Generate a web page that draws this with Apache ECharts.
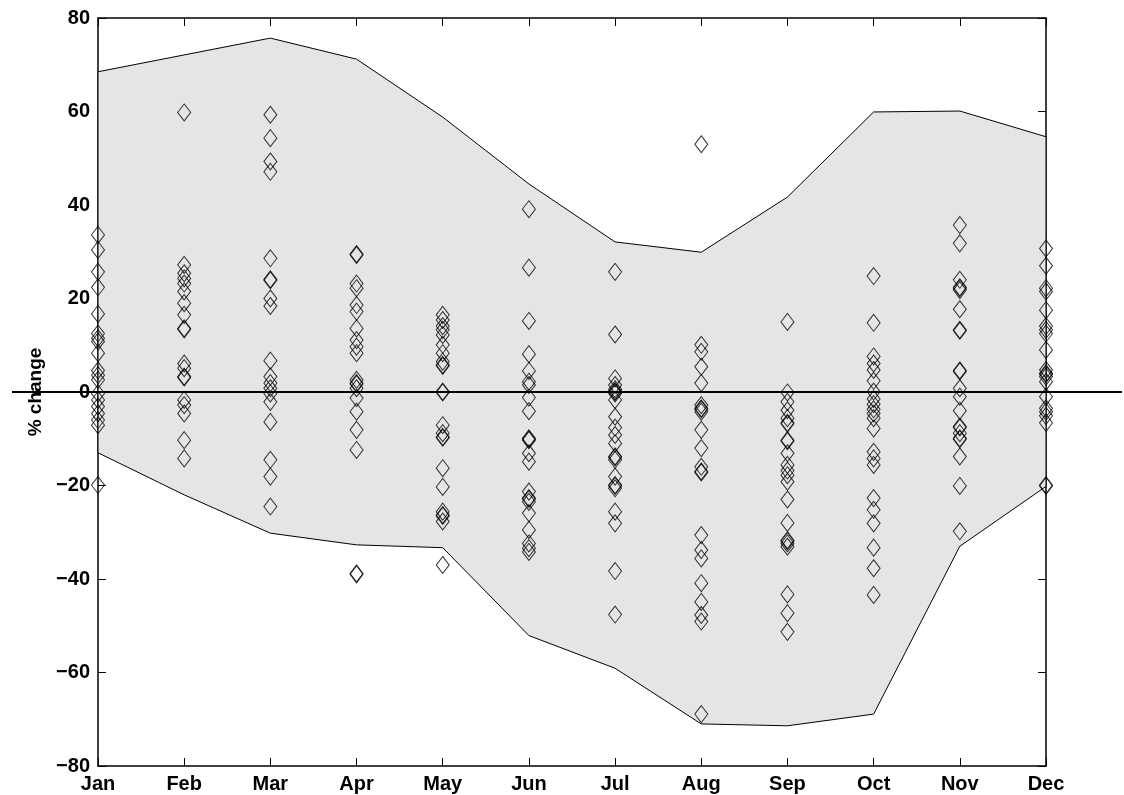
<!DOCTYPE html>
<html>
<head>
<meta charset="utf-8">
<script src="https://cdn.jsdelivr.net/npm/echarts@6/dist/echarts.min.js"></script>
<style>
  html, body { margin: 0; padding: 0; background: #fff; }
  #chart { width: 1124px; height: 795px; }
</style>
</head>
<body>
<div id="chart"></div>
<script>
// Month categories along the x axis
const months = ['Jan', 'Feb', 'Mar', 'Apr', 'May', 'Jun', 'Jul', 'Aug', 'Sep', 'Oct', 'Nov', 'Dec'];

// Envelope of the shaded band (% change)
const upperBound = [68.5, 72.1, 75.7, 71.2, 58.8, 44.5, 32.1, 29.9, 41.7, 59.9, 60.1, 54.6];
const lowerBound = [-13.0, -22.0, -30.2, -32.7, -33.3, -52.1, -59.1, -71.0, -71.4, -68.9, -33.0, -20.2];

// Individual % change values for each month
const jan = [33.6, 30.4, 25.7, 22.4, 16.7, 12.5, 11.5, 10.8, 8.3, 4.6, 3.6, 2.6, -0.3, -1.7, -3.1, -4.6, -6.0, -7.1, -19.9];
const feb = [59.8, 27.2, 25.4, 24.3, 23.2, 21.5, 19.0, 16.5, 13.6, 13.4, 6.1, 5.1, 3.3, 3.1, -1.7, -2.8, -4.6, -10.3, -14.2];
const mar = [59.3, 54.3, 49.3, 47.1, 28.6, 24.1, 23.9, 20.0, 18.4, 6.7, 3.3, 1.9, 0.8, -0.3, -2.1, -6.4, -14.5, -18.1, -24.5];
const apr = [29.5, 29.3, 23.2, 22.2, 18.6, 17.2, 13.6, 11.1, 9.7, 8.3, 2.6, 1.9, 1.7, 0.8, -1.3, -4.2, -8.1, -12.4, -38.8, -39.0];
const may = [16.5, 15.4, 14.1, 13.3, 12.2, 10.1, 8.3, 6.5, 5.8, 5.6, -0.1, 0.1, -7.1, -8.8, -9.6, -9.8, -16.3, -20.3, -25.6, -26.3, -26.5, -27.7, -37.0];
const jun = [39.1, 26.6, 15.2, 8.1, 4.5, 2.2, 1.5, -1.2, -4.1, -9.9, -10.1, -10.3, -13.1, -14.9, -21.3, -22.7, -22.9, -23.5, -25.9, -29.5, -32.4, -33.4, -34.2];
const jul = [25.7, 12.3, 2.9, 1.5, 0.6, 0.2, 0.0, -0.3, -1.7, -5.3, -7.6, -9.2, -11.0, -13.8, -14.0, -14.5, -18.1, -19.9, -20.1, -20.6, -25.6, -28.1, -38.3, -47.6];
const aug = [53.0, 10.1, 8.6, 5.4, 1.9, -2.8, -3.5, -3.7, -4.2, -8.1, -12.0, -16.0, -17.0, -17.2, -30.6, -33.8, -35.6, -40.9, -44.9, -47.7, -49.1, -68.9];
const sep = [15.0, -0.1, -2.1, -3.9, -5.6, -6.6, -6.8, -10.3, -10.5, -13.1, -15.6, -16.8, -17.8, -19.2, -23.0, -28.0, -31.7, -31.9, -32.4, -33.1, -43.3, -47.3, -51.3];
const oct = [24.8, 14.8, 7.6, 6.1, 4.7, 2.4, 0.1, -1.5, -2.6, -3.7, -4.6, -5.6, -7.8, -12.8, -14.2, -15.6, -22.7, -25.2, -28.1, -33.3, -37.7, -43.4];
const nov = [35.7, 31.8, 24.0, 22.4, 22.2, 21.8, 17.7, 13.3, 13.1, 4.6, 4.4, 0.8, -1.0, -4.0, -7.4, -7.6, -8.8, -9.9, -10.1, -13.8, -20.1, -29.8];
const dec = [30.7, 27.0, 22.2, 21.5, 17.5, 14.1, 13.3, 12.5, 9.0, 4.7, 4.0, 3.8, 3.3, 2.2, -1.0, -3.5, -4.2, -5.1, -6.6, -19.9, -20.1];

// Y axis range and tick step
const yMin = -80;
const yMax = 80;
const yStep = 20;

const monthlyValues = [jan, feb, mar, apr, may, jun, jul, aug, sep, oct, nov, dec];
const scatterData = [];
monthlyValues.forEach((vals, i) => vals.forEach(v => scatterData.push([i, v])));

const FONT = '"Liberation Sans", Arial, Helvetica, sans-serif';
const minusFmt = v => (v < 0 ? '\u2212' + Math.abs(v) : String(v));

const chart = echarts.init(document.getElementById('chart'), null, { renderer: 'canvas' });

const baseX = {
  type: 'category',
  data: months,
  boundaryGap: false,
  axisLine: { show: true, onZero: false, lineStyle: { color: '#000', width: 1.5 } },
  axisTick: { show: true, inside: true, length: 8, lineStyle: { color: '#000', width: 1 } },
  splitLine: { show: false }
};
const baseY = {
  type: 'value',
  min: yMin,
  max: yMax,
  interval: yStep,
  axisLine: { show: true, onZero: false, lineStyle: { color: '#000', width: 1.5 } },
  axisTick: { show: true, inside: true, length: 8, lineStyle: { color: '#000', width: 1 } },
  splitLine: { show: false }
};

chart.setOption({
  animation: false,
  backgroundColor: '#fff',
  grid: { left: 98, right: 78, top: 18, bottom: 29, containLabel: false },
  xAxis: [
    Object.assign({}, baseX, {
      position: 'bottom',
      axisLabel: { show: true, color: '#000', fontFamily: FONT, fontWeight: 'bold', fontSize: 20, margin: 8 }
    }),
    Object.assign({}, baseX, { position: 'top', axisLabel: { show: false } })
  ],
  yAxis: [
    Object.assign({}, baseY, {
      position: 'left',
      name: '% change',
      nameLocation: 'middle',
      nameGap: 53,
      nameRotate: 90,
      nameTextStyle: { color: '#000', fontFamily: FONT, fontWeight: 'bold', fontSize: 19 },
      axisLabel: { show: true, color: '#000', fontFamily: FONT, fontWeight: 'bold', fontSize: 20, margin: 8, formatter: minusFmt }
    }),
    Object.assign({}, baseY, { position: 'right', axisLabel: { show: false } })
  ],
  series: [
    {
      // shaded band between the lower and upper envelope
      type: 'custom',
      xAxisIndex: 0,
      yAxisIndex: 0,
      silent: true,
      z: 1,
      data: [[0, 0]],
      renderItem: function (params, api) {
        const pts = [];
        for (let i = 0; i < upperBound.length; i++) pts.push(api.coord([i, upperBound[i]]));
        for (let i = lowerBound.length - 1; i >= 0; i--) pts.push(api.coord([i, lowerBound[i]]));
        return {
          type: 'polygon',
          shape: { points: pts },
          style: { fill: '#e5e5e5', stroke: '#000', lineWidth: 1 }
        };
      }
    },
    {
      type: 'scatter',
      xAxisIndex: 0,
      yAxisIndex: 0,
      z: 3,
      symbol: 'diamond',
      symbolSize: [13, 17],
      itemStyle: { color: 'rgba(0,0,0,0)', borderColor: '#000', borderWidth: 1 },
      data: scatterData
    }
  ]
});

// Zero reference line, running past both sides of the frame
const zeroY = chart.convertToPixel({ yAxisIndex: 0 }, 0);
chart.setOption({
  graphic: [{
    type: 'line',
    z: 100,
    silent: true,
    shape: { x1: 12, y1: zeroY, x2: 1122, y2: zeroY },
    style: { stroke: '#000', lineWidth: 2 }
  }]
});
</script>
</body>
</html>
